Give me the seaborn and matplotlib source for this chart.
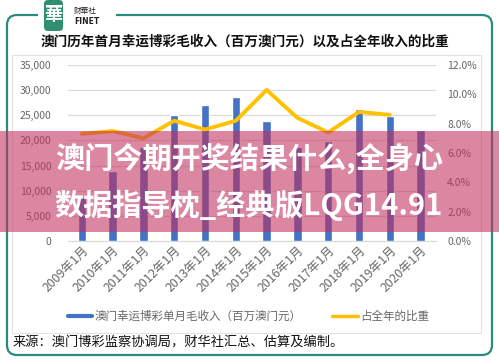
import numpy as np
import pandas as pd
import seaborn as sns
import matplotlib.pyplot as plt
from matplotlib.patches import FancyBboxPatch, Rectangle

# data
years = ["2009年1月", "2010年1月", "2011年1月", "2012年1月", "2013年1月", "2014年1月",
         "2015年1月", "2016年1月", "2017年1月", "2018年1月", "2019年1月", "2020年1月"]
revenue = [8800, 13900, 18600, 25000, 27100, 28700, 23800, 18700, 19900, 26300, 24900, 22100]
share = [7.3, 7.5, 7.0, 8.2, 7.6, 8.2, 10.3, 8.4, 7.4, 8.8, 8.6]
left_ticks = [0, 5000, 10000, 15000, 20000, 25000, 30000, 35000]
right_ticks = [0, 2, 4, 6, 8, 10, 12]

sns.set_style("white")
plt.rcParams['font.family'] = ['Noto Sans CJK SC', 'DejaVu Sans']

W, H = 499, 362
fig = plt.figure(figsize=(W / 100, H / 100), dpi=100, facecolor="white")

# background decoration in pixel coordinates
back = fig.add_axes([0, 0, 1, 1], zorder=0)
back.set_xlim(0, W)
back.set_ylim(H, 0)
back.axis("off")
teal = "#2b8a80"
back.add_patch(FancyBboxPatch((7, 15), 485, 340, boxstyle="round,pad=0,rounding_size=10",
                              fill=False, edgecolor=teal, linewidth=1.6))
back.add_patch(Rectangle((38, 8), 78, 14, facecolor="white", edgecolor="none"))
back.add_patch(Rectangle((12, 55), 469, 278, fill=False, edgecolor="#e3e3e3", linewidth=0.8))
back.add_patch(FancyBboxPatch((44, 0), 19, 31, boxstyle="round,pad=0,rounding_size=4",
                              facecolor="#2f8f6e", edgecolor="none"))
back.text(53.5, 15, "華", color="white", fontsize=13, ha="center", va="center", fontweight="bold")
back.text(74, 11, "财華社", fontsize=5.5, ha="left", va="center", color="#222222")
back.text(74, 21, "FINET", fontsize=5.5, ha="left", va="center", color="#222222",
          family="DejaVu Sans", fontweight="bold")
back.text(245, 42, "澳门历年首月幸运博彩毛收入（百万澳门元）以及占全年收入的比重",
          fontsize=9.8, fontweight="bold", ha="center", va="center", color="#111111")
back.text(13, 343, "来源：澳门博彩监察协调局，财华社汇总、估算及编制。",
          fontsize=9.5, ha="left", va="center", color="#111111")

# main chart
ax = fig.add_axes([68 / W, 1 - 241 / H, 368 / W, 176 / H], zorder=2)
ax.patch.set_alpha(0)
df = pd.DataFrame({"year": years, "revenue": revenue})
sns.barplot(data=df, x="year", y="revenue", color="#4472c4", width=0.27,
            saturation=1, ax=ax, zorder=3)
ax.set_ylim(0, 35000)
ax.set_xlim(-0.45, 11.5)
ax.set_yticks(left_ticks)
ax.set_yticklabels([f"{v:,}" for v in left_ticks], fontsize=7.5, color="#666666")
ax.set_xticks(range(len(years)))
ax.set_xticklabels(years, rotation=45, ha="right", rotation_mode="anchor",
                   fontsize=8.8, color="#666666")
ax.grid(axis="y", color="#d9d9d9", linewidth=0.9)
ax.set_axisbelow(True)
for s in ["top", "left", "right"]:
    ax.spines[s].set_visible(False)
ax.spines["bottom"].set_color("#d9d9d9")
ax.tick_params(axis="y", length=0, pad=12)
ax.tick_params(axis="x", length=0, pad=2)
ax.set_xlabel("")
ax.set_ylabel("")

ax2 = ax.twinx()
sns.lineplot(x=np.arange(len(share)), y=share, color="#ffc000", linewidth=2.8, ax=ax2)
ax2.set_ylim(0, 12)
ax2.set_yticks(right_ticks)
ax2.set_yticklabels([f"{v:.1f}%" for v in right_ticks], fontsize=7.5, color="#666666")
ax2.tick_params(axis="y", length=0, pad=8)
for s in ["top", "left", "right", "bottom"]:
    ax2.spines[s].set_visible(False)
ax2.set_ylabel("")

# legend
back.plot([68, 92], [316, 316], color="#4472c4", linewidth=3)
back.text(95, 316, "澳门幸运博彩单月毛收入（百万澳门元）", fontsize=8.3, color="#666666",
          ha="left", va="center")
back.plot([332, 358], [316, 316], color="#ffc000", linewidth=2.5)
back.text(360, 316, "占全年的比重", fontsize=8.3, color="#666666", ha="left", va="center")

# overlay band on top
front = fig.add_axes([0, 0, 1, 1], zorder=10)
front.set_xlim(0, W)
front.set_ylim(H, 0)
front.axis("off")
front.patch.set_alpha(0)
front.add_patch(Rectangle((0, 131), W, 101, facecolor="#c2305e", alpha=0.58, edgecolor="none"))
front.text(249, 158, "澳门今期开奖结果什么,全身心", fontsize=21, fontweight="heavy",
           color="white", ha="center", va="center")
front.text(249, 205, "数据指导枕_经典版LQG14.91", fontsize=21, fontweight="heavy",
           color="white", ha="center", va="center")

fig.savefig("out.png", dpi=100, facecolor="white")
